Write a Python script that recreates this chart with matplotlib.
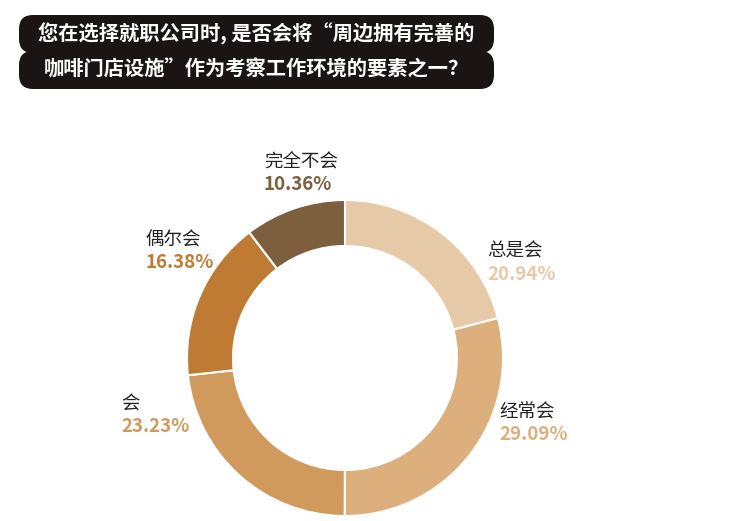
import matplotlib
matplotlib.use('Agg')
import matplotlib.pyplot as plt
from matplotlib.patches import FancyBboxPatch

plt.rcParams['font.family'] = ['Noto Sans CJK SC', 'DejaVu Sans']

# --- data ---
labels = ['总是会', '经常会', '会', '偶尔会', '完全不会']
values = [20.94, 29.09, 23.23, 16.38, 10.36]
colors = ['#E6CAA8', '#DDAF7C', '#CF9A5C', '#BF7A33', '#7D5E3D']
title_lines = ['您在选择就职公司时, 是否会将“周边拥有完善的',
               '咖啡门店设施”作为考察工作环境的要素之一？']
# label anchor positions (pixels, left edge / centre of name line)
label_pos = [(487, 252), (499, 413), (121, 405), (146, 241), (264, 162)]

W, H = 737, 521
fig = plt.figure(figsize=(W / 100, H / 100), dpi=100)
ax = fig.add_axes([0, 0, 1, 1])
ax.set_xlim(0, W)
ax.set_ylim(H, 0)
ax.set_aspect('equal')
ax.axis('off')

# title boxes (overlap a little so they read as one shape)
for i, line in enumerate(title_lines):
    y0 = 15 + i * 36
    box = FancyBboxPatch((19, y0), 475, 38,
                         boxstyle='round,pad=0,rounding_size=14',
                         fc='#1A1414', ec='none', zorder=2)
    ax.add_patch(box)
    ax.text(256, y0 + 18.5, line, color='white', fontsize=14.6, fontweight='bold',
            ha='center', va='center', zorder=3)

# donut (pie drawn in y-down coords, so counterclock=True appears clockwise)
wedges, _ = ax.pie(values, colors=colors, startangle=-90, counterclock=True,
                   center=(345, 358), radius=158, frame=True,
                   wedgeprops=dict(width=46, edgecolor='white', linewidth=1.5))
ax.set_xlim(0, W)
ax.set_ylim(H, 0)
ax.axis('off')

for lab, val, col, (x, y) in zip(labels, values, colors, label_pos):
    ax.text(x, y, lab, fontsize=13.3, color='#222222', ha='left', va='center')
    ax.text(x, y + 22, f'{val:.2f}%', fontsize=13.5, color=col,
            fontweight='bold', ha='left', va='center')

fig.savefig('out.png', dpi=100, facecolor='white')
